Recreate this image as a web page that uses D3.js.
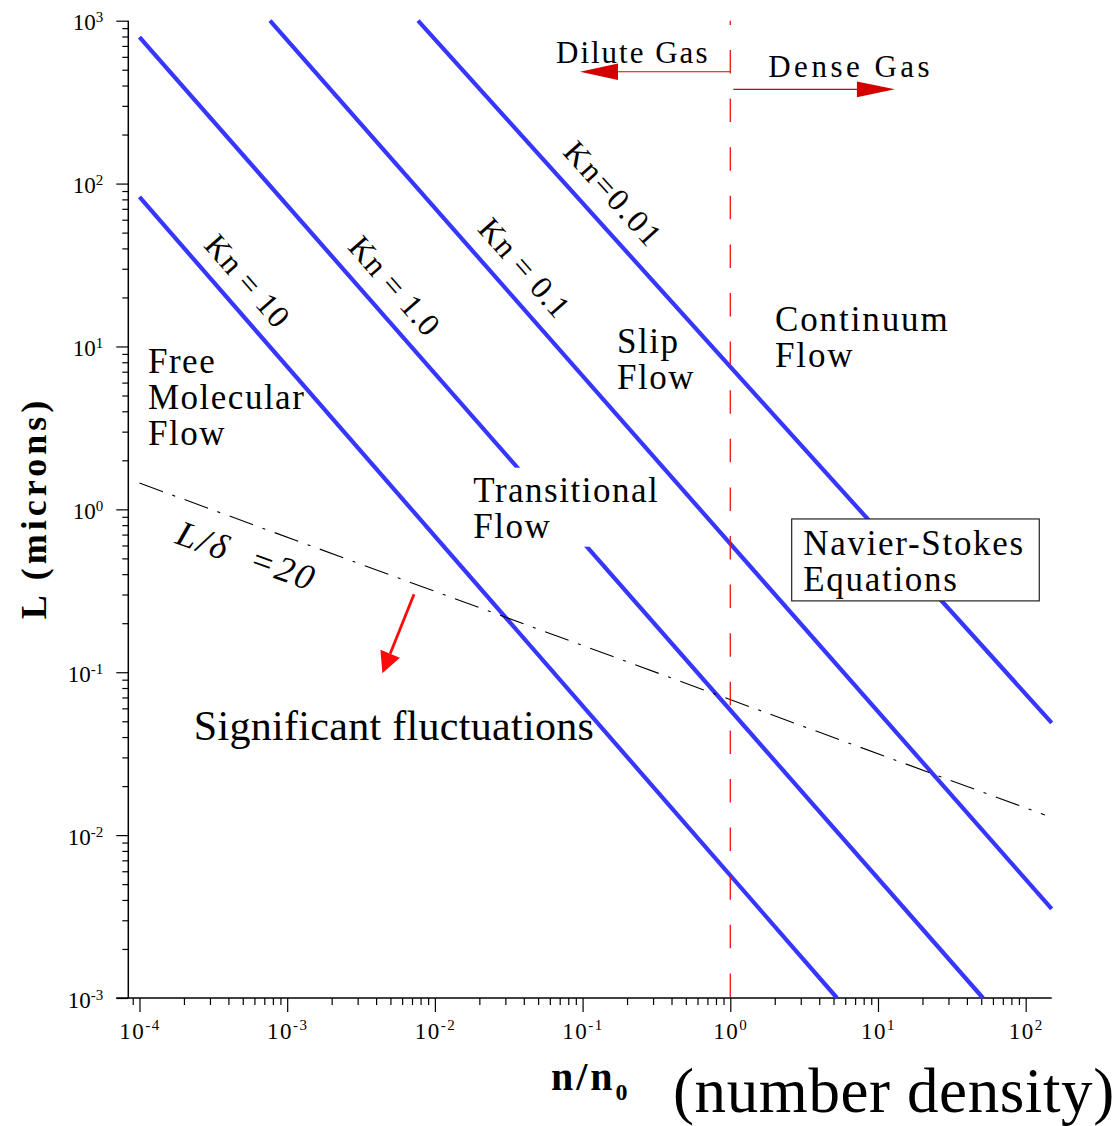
<!DOCTYPE html>
<html>
<head>
<meta charset="utf-8">
<script src="https://cdn.jsdelivr.net/npm/d3@7"></script>
<style>
  body { margin: 0; background: #fff; }
  svg { display: block; font-family: "Liberation Serif", "Times New Roman", serif; }
  svg text { font-family: "Liberation Serif", "Times New Roman", serif; }
</style>
</head>
<body>
<svg id="chart" width="1115" height="1126"></svg>
<script>
// ---- data: [n/n0, L (microns)] at the two ends of each regime line ----
const knNames = ["Kn = 10", "Kn = 1.0", "Kn = 0.1", "Kn=0.01"];
const kn10  = [[1e-4, 82.8], [5.28, 1e-3]];
const kn1   = [[1e-4, 794], [51.4, 1e-3]];
const kn01  = [[7.65e-4, 1e3], [150, 3.52e-3]];
const kn001 = [[7.69e-3, 1e3], [150, 0.0489]];
// mean molecular spacing criterion L/delta = 20
const spacingLine = [[1e-4, 1.45], [135, 0.0133]];
// standard-density divider n/n0 = 1
const refDensity = 1;
// decade exponents used for the major tick labels
const xDecades = [-4, -3, -2, -1, 0, 1, 2];
const yDecades = [-3, -2, -1, 0, 1, 2, 3];
// arrows: [from, to] in (n/n0, L)
const diluteArrow = [[1, 486], [0.096, 486]];
const denseArrow  = [[1.048, 379], [13.03, 379]];
const fluctArrow  = [[7.22e-3, 0.301], [4.41e-3, 0.0986]];

const serif = '"Liberation Serif", "Times New Roman", serif';
const svg = d3.select("#chart");

const x = d3.scaleLog().domain([8.4e-5, 150]).range([128.3, 1051.7]);
const y = d3.scaleLog().domain([1e-3, 1e3]).range([998, 20.7]);
// position helpers taking decimal exponents
const px = e => x(Math.pow(10, e));
const py = e => y(Math.pow(10, e));

// ---- axes ----
const xMajor = xDecades.map(e => Math.pow(10, e));
const yMajor = yDecades.map(e => Math.pow(10, e));
const minorIn = (dom, lo, hi) => {
  const out = [];
  for (let e = lo; e <= hi; e++)
    for (let m = 2; m <= 9; m++) {
      const v = m * Math.pow(10, e);
      if (v >= dom[0] && v <= dom[1]) out.push(v);
    }
  return out;
};
const xMinor = minorIn(x.domain(), -5, 2);
const yMinor = minorIn(y.domain(), -3, 2);

const axisColor = "#000";
const xAxisY = y(1e-3);
const yAxisX = x.range()[0];

const gx = svg.append("g").attr("transform", `translate(0,${xAxisY})`);
gx.append("g").call(d3.axisBottom(x).tickValues(xMinor).tickSize(7).tickFormat(""));
gx.append("g").attr("class", "major").call(d3.axisBottom(x).tickValues(xMajor).tickSize(14).tickFormat(""));
gx.selectAll("g").attr("font-family", serif);
gx.selectAll(".domain").remove();
gx.selectAll(".tick line").attr("stroke", axisColor).attr("stroke-width", 1.2);
gx.select(".major").selectAll(".tick").each(function (d, i) {
  const t = d3.select(this).append("text")
    .attr("y", 41).attr("text-anchor", "middle")
    .attr("font-family", serif)
    .attr("font-size", 23).attr("letter-spacing", 1.5).attr("fill", "#000");
  t.append("tspan").text("10");
  t.append("tspan").attr("dy", -9).attr("font-size", 15).text(xDecades[i]);
});
svg.append("line")
  .attr("x1", yAxisX - 12).attr("x2", x.range()[1])
  .attr("y1", xAxisY).attr("y2", xAxisY)
  .attr("stroke", axisColor).attr("stroke-width", 1.5);

const gy = svg.append("g").attr("transform", `translate(${yAxisX},0)`);
gy.append("g").call(d3.axisLeft(y).tickValues(yMinor).tickSize(6).tickFormat(""));
gy.append("g").attr("class", "major").call(d3.axisLeft(y).tickValues(yMajor).tickSize(12).tickFormat(""));
gy.selectAll("g").attr("font-family", serif);
gy.selectAll(".domain").remove();
gy.selectAll(".tick line").attr("stroke", axisColor).attr("stroke-width", 1.2);
gy.select(".major").selectAll(".tick").each(function (d, i) {
  const t = d3.select(this).append("text")
    .attr("x", -25).attr("y", 9).attr("text-anchor", "end")
    .attr("font-family", serif)
    .attr("font-size", 23).attr("fill", "#000");
  t.append("tspan").text("10");
  t.append("tspan").attr("dy", -8).attr("font-size", 15).text(yDecades[i]);
});
svg.append("line")
  .attr("x1", yAxisX).attr("x2", yAxisX)
  .attr("y1", y.range()[1]).attr("y2", xAxisY)
  .attr("stroke", axisColor).attr("stroke-width", 1.5);

// ---- regime lines ----
const line = d3.line().x(d => x(d[0])).y(d => y(d[1]));
const knLines = [kn10, kn1, kn01, kn001];
const blue = "#3636ff";
svg.append("g").selectAll("path").data(knLines).join("path")
  .attr("d", line).attr("fill", "none")
  .attr("stroke", blue).attr("stroke-width", 4.2);

svg.append("path").datum(spacingLine)
  .attr("d", line).attr("fill", "none")
  .attr("stroke", "#000").attr("stroke-width", 1.1)
  .attr("stroke-dasharray", "25,10,3,10");

svg.append("line")
  .attr("x1", x(refDensity)).attr("x2", x(refDensity))
  .attr("y1", y(1e3)).attr("y2", y(1e-3))
  .attr("stroke", "#e31616").attr("stroke-width", 1.3)
  .attr("stroke-dasharray", "23.5,25.1").attr("stroke-dashoffset", 19.3);

// ---- arrows ----
function arrow(a, color, width, headLen, headHalf) {
  const x0 = x(a[0][0]), y0 = y(a[0][1]), x1 = x(a[1][0]), y1 = y(a[1][1]);
  const dx = x1 - x0, dy = y1 - y0, len = Math.hypot(dx, dy);
  const ux = dx / len, uy = dy / len;
  const bx = x1 - ux * headLen, by = y1 - uy * headLen;
  svg.append("line").attr("x1", x0).attr("y1", y0).attr("x2", bx).attr("y2", by)
    .attr("stroke", color).attr("stroke-width", width);
  svg.append("path")
    .attr("d", `M${x1},${y1}L${bx - uy * headHalf},${by + ux * headHalf}L${bx + uy * headHalf},${by - ux * headHalf}Z`)
    .attr("fill", color);
}
arrow(diluteArrow, "#d40000", 1.2, 38, 8.3);
arrow(denseArrow, "#d40000", 1.2, 38, 7.8);
arrow(fluctArrow, "#ff0a0a", 2.8, 21, 10.5);

// ---- labels along the Kn lines ----
const knLabelPos = [[-3.267, 1.402], [-2.271, 1.371], [-1.391, 1.482], [-0.790, 1.935]];
const knSpacing = [1, 1, 1, 2.5];
knLines.forEach((pts, i) => {
  const ang = Math.atan2(y(pts[1][1]) - y(pts[0][1]), x(pts[1][0]) - x(pts[0][0])) * 180 / Math.PI;
  const cx = px(knLabelPos[i][0]), cy = py(knLabelPos[i][1]);
  svg.append("text")
    .attr("transform", `translate(${cx},${cy}) rotate(${ang})`)
    .attr("text-anchor", "middle").attr("dominant-baseline", "central")
    .attr("font-size", 32).attr("letter-spacing", knSpacing[i])
    .text(knNames[i]);
});

// ---- region annotations ----
function block(lines, lx, ly, opts = {}) {
  const t = svg.append("text")
    .attr("x", px(lx)).attr("y", py(ly))
    .attr("font-size", opts.size || 35)
    .attr("letter-spacing", opts.spacing == null ? 1.5 : opts.spacing)
    .attr("fill", "#000");
  lines.forEach((s, k) => {
    t.append("tspan").attr("x", px(lx)).attr("dy", k === 0 ? 0 : (opts.lead || 36)).text(s);
  });
  return t;
}

block(["Dilute Gas"], -1.180, 2.7385, { size: 31, spacing: 2 });
block(["Dense Gas"], 0.257, 2.656, { size: 31, spacing: 3.5 });
block(["Free", "Molecular", "Flow"], -3.9424, 0.8373);
block(["Slip", "Flow"], -0.767, 0.960);
block(["Continuum", "Flow"], 0.3026, 1.095, { spacing: 1.9 });

const trans = block(["Transitional", "Flow"], -1.740, 0.047);
const tb = trans.node().getBBox();
svg.insert("rect", () => trans.node())
  .attr("x", tb.x - 5).attr("y", tb.y - 3)
  .attr("width", tb.width + 4).attr("height", tb.height + 4)
  .attr("fill", "#fff");

const ns = block(["Navier-Stokes", "Equations"], 0.494, -0.280, { spacing: 1.7, lead: 35.7 });
svg.insert("rect", () => ns.node())
  .attr("x", px(0.4157)).attr("y", py(-0.059))
  .attr("width", px(2.092) - px(0.4157)).attr("height", py(-0.562) - py(-0.059))
  .attr("fill", "#fff").attr("stroke", "#222").attr("stroke-width", 1.2);

block(["Significant fluctuations"], -3.632, -1.4156, { size: 42, spacing: 0.3 });

// L/delta = 20 label running along the dash-dot line
svg.append("text")
  .attr("transform", `translate(${px(-3.766)},${py(-0.206)}) rotate(19.5)`)
  .attr("font-size", 36).attr("font-style", "italic")
  .attr("letter-spacing", 2.6).style("white-space", "pre")
  .text("L/δ  =20");

// ---- axis titles ----
svg.append("text")
  .attr("transform", "translate(46,508) rotate(-90)")
  .attr("text-anchor", "middle")
  .attr("font-size", 36).attr("font-weight", "bold").attr("letter-spacing", 4)
  .text("L (microns)");

const nt = svg.append("text")
  .attr("x", 551).attr("y", 1090)
  .attr("font-size", 40).attr("font-weight", "bold").attr("letter-spacing", 3);
nt.append("tspan").text("n/n");
nt.append("tspan").attr("dy", 10).attr("font-size", 24).text("0");

svg.append("text")
  .attr("x", 673).attr("y", 1112)
  .attr("font-size", 63).attr("letter-spacing", 0.6)
  .text("(number density)");
</script>
</body>
</html>
